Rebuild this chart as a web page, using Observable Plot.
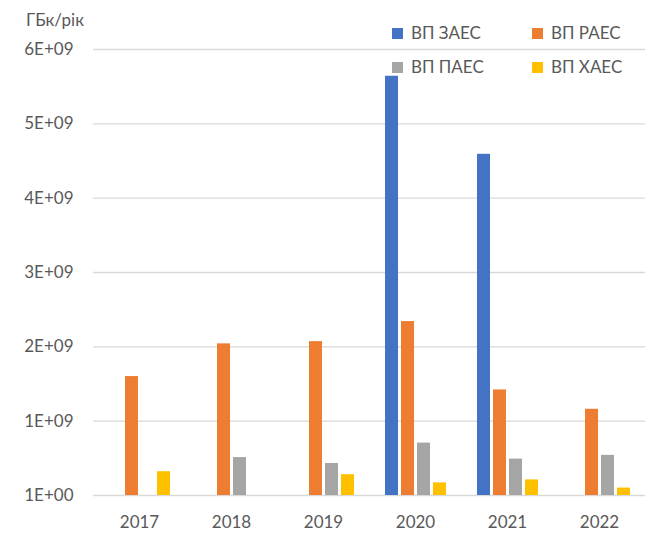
<!DOCTYPE html>
<html>
<head>
<meta charset="utf-8">
<script src="https://cdn.jsdelivr.net/npm/d3@7"></script>
<script src="https://cdn.jsdelivr.net/npm/@observablehq/plot@0.6"></script>
<style>
  html, body { margin: 0; padding: 0; background: #fff; }
  #wrap { position: relative; width: 649px; height: 534px; font-family: Lato, "Open Sans", sans-serif; color: #595959; }
  #ylabel { position: absolute; left: 26px; top: 9px; font-size: 17px; line-height: 22px; }
  .leg { position: absolute; font-size: 17px; line-height: 22px; white-space: nowrap; }
  .leg span.sw { display: inline-block; width: 11px; height: 11px; margin-right: 8px; vertical-align: -0px; }
</style>
</head>
<body>
<div id="wrap"></div>
<script>
const years = ["2017", "2018", "2019", "2020", "2021", "2022"];
const series = ["ВП ЗАЕС", "ВП РАЕС", "ВП ПАЕС", "ВП ХАЕС"];
const colors = ["#4472C4", "#ED7D31", "#A5A5A5", "#FFC000"];
const zaes = [null, null, null, 5.64e9, 4.59e9, null];
const raes = [1.60e9, 2.04e9, 2.07e9, 2.34e9, 1.42e9, 1.16e9];
const paes = [null, 0.51e9, 0.43e9, 0.705e9, 0.49e9, 0.54e9];
const haes = [0.32e9, null, 0.28e9, 0.17e9, 0.21e9, 0.10e9];
const yTicks = [0, 1e9, 2e9, 3e9, 4e9, 5e9, 6e9];
const yTickLabels = ["1E+00", "1E+09", "2E+09", "3E+09", "4E+09", "5E+09", "6E+09"];
const yLabel = "ГБк/рік";

const valuesBySeries = [zaes, raes, paes, haes];
const data = [];
years.forEach((yr, i) => {
  series.forEach((s, j) => {
    const v = valuesBySeries[j][i];
    if (v != null) data.push({year: yr, series: s, value: v});
  });
});

const chart = Plot.plot({
  width: 649,
  height: 534,
  marginLeft: 93,
  marginRight: 4,
  marginTop: 49,
  marginBottom: 39,
  style: {fontFamily: "Lato, 'Open Sans', sans-serif", fontSize: "17px", color: "#595959", background: "transparent"},
  fx: {domain: years, padding: 0, label: null, axis: "bottom", tickSize: 0, tickPadding: 20},
  x: {domain: series, paddingInner: 0.2, paddingOuter: 0.85, axis: null},
  y: {domain: [0, 6e9], ticks: yTicks, tickFormat: (d) => yTickLabels[yTicks.indexOf(d)], tickSize: 0, tickPadding: 20, label: null},
  color: {domain: series, range: colors},
  marks: [
    Plot.ruleY(yTicks, {stroke: "#d9d9d9", strokeWidth: 1.3}),
    Plot.barY(data, {fx: "year", x: "series", y: "value", fill: "series"})
  ]
});

const wrap = document.getElementById("wrap");
wrap.appendChild(chart);

const yl = document.createElement("div");
yl.id = "ylabel";
yl.textContent = yLabel;
wrap.appendChild(yl);

const legPos = [[392, 22], [532, 22], [392, 56], [532, 56]];
series.forEach((s, j) => {
  const d = document.createElement("div");
  d.className = "leg";
  d.style.left = legPos[j][0] + "px";
  d.style.top = legPos[j][1] + "px";
  const sw = document.createElement("span");
  sw.className = "sw";
  sw.style.background = colors[j];
  d.appendChild(sw);
  d.appendChild(document.createTextNode(s));
  wrap.appendChild(d);
});
</script>
</body>
</html>
